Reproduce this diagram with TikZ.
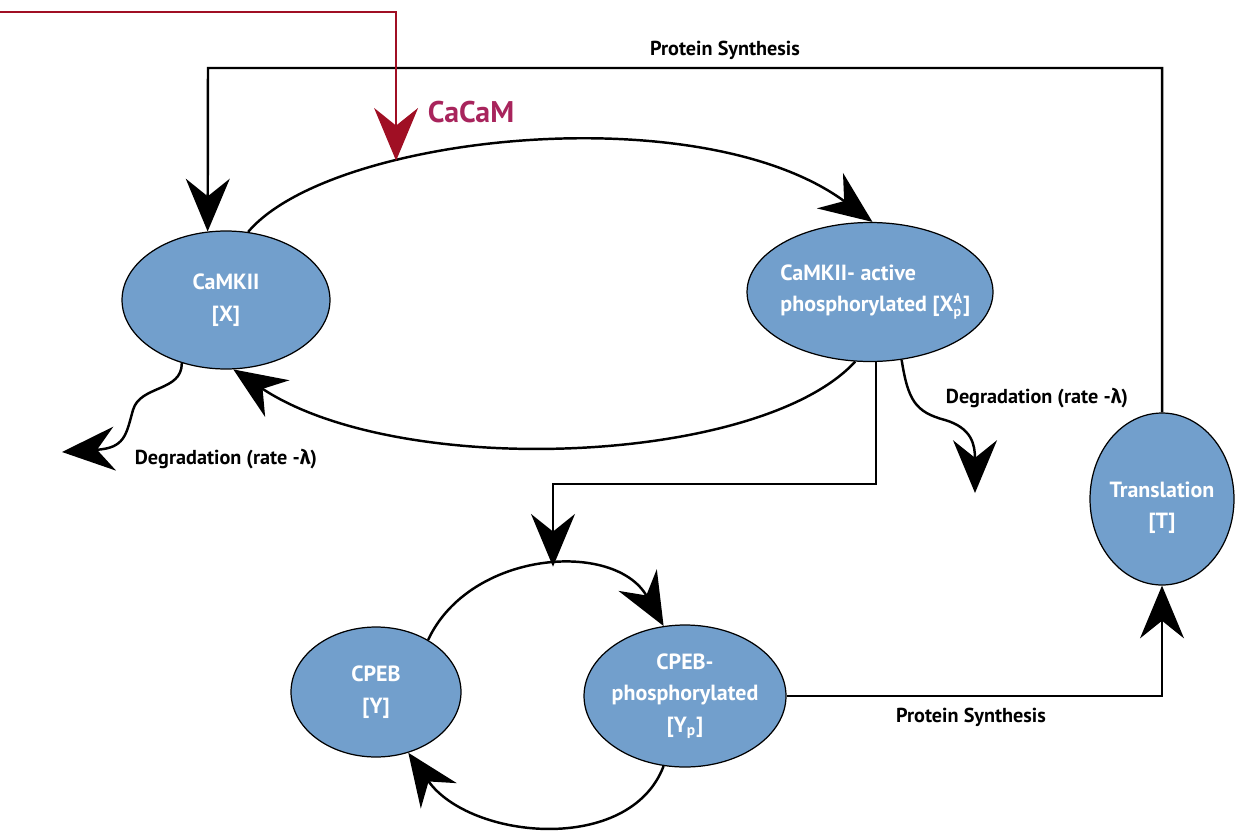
\documentclass[tikz,border=0pt]{standalone}
\usepackage{fontspec}
\setmainfont{PT Sans}
\newfontfamily\greekfont{Fira Sans}
\usetikzlibrary{positioning,arrows.meta,shapes.geometric}
\definecolor{cellblue}{HTML}{729FCC}
\definecolor{signalred}{HTML}{A00F24}
\definecolor{cacamtext}{HTML}{A8245C}
\newcommand{\lam}{{\greekfont λ}}
\newcommand{\idx}[1]{\mbox{\fontsize{8}{8}\selectfont #1}}

\begin{document}
\begin{tikzpicture}[x=0.02cm,y=-0.02cm,
      blob/.style={ellipse,draw=black,fill=cellblue,line width=0.7pt,inner sep=0pt},
      txt/.style={text=white,align=center,font=\bfseries\fontsize{12.5}{18}\selectfont},
      lbl/.style={font=\bfseries\fontsize{11.5}{13}\selectfont},
      arr/.style={-{Stealth[length=30pt,width=25pt,inset=10pt]},line width=1.4pt}]
  \useasboundingbox (0,0) rectangle (1236,835);
  \node[blob,minimum width=4.16cm,minimum height=2.76cm,
        label={[txt]center:{CaMKII\\{}[X]}}](camk) at (226,300){};
  \node[blob,minimum width=4.92cm,minimum height=2.78cm,
        label={[txt,align=left,xshift=3pt]center:{CaMKII- active\\phosphorylated [X$^{\idx{A}}_{\idx{p}}$]}}](act) at (870,292){};
  \node[blob,minimum width=2.88cm,minimum height=3.44cm,
        label={[txt,yshift=-5pt]center:{Translation\\{}[T]}}](trans) at (1162,499){};
  \node[blob,minimum width=3.4cm,minimum height=2.6cm,
        label={[txt]center:{CPEB\\{}[Y]}}](cpeb) at (376,692){};
  \node[blob,minimum width=4.04cm,minimum height=2.84cm,
        label={[txt]center:{CPEB-\\phosphorylated\\{}[Y\textsubscript{p}]}}](cpebp) at (685,696){};
  \coordinate (redin) at (0,12);
  \coordinate (tl) at (208,68);
  \coordinate (junc) at (553,484);
  \coordinate (degl) at (62,452);
  \coordinate (degr) at (975,493);
  \draw[arr] (camk.72) .. controls (330,135) and (700,95) .. (act.88) coordinate[pos=0.315] (cacamtip);
  \draw[arr] (act.258) .. controls (760,465) and (400,480) .. (camk.276);
  \draw[arr] (cpeb.45) .. controls (470,550) and (615,540) .. (cpebp.107) coordinate[pos=0.53] (ytip);
  \draw[arr] (cpebp.253) .. controls (630,855) and (470,840) .. (cpeb.298);
  \draw[arr] (act.275) |- (junc) -- (junc |- ytip);
  \draw[arr] (trans.north) |- (tl) -- (camk.105);
  \draw[arr] (cpebp.east) -| (trans.south);
  \draw[arr] (camk.235) .. controls (182,392) and (140,385) .. (133,410) .. controls (126,435) and (125,448) .. (degl);
  \draw[arr] (act.295) .. controls (908,400) and (915,412) .. (945,420) .. controls (972,428) and (975,445) .. (degr);
  \draw[arr,signalred,line width=1.2pt] (redin) -| (cacamtip);
  \node[lbl] (ps1) at (725,50) {Protein Synthesis};
  \node[lbl] (ps2) at (971,717) {Protein Synthesis};
  \node[lbl] (dgl) at (226,459) {Degradation (rate -\lam)};
  \node[lbl] (dgr) at (1037,398) {Degradation (rate -\lam)};
  \node[font=\bfseries\fontsize{17}{20}\selectfont,text=cacamtext] (cacam) at (471,112) {CaCaM};
\end{tikzpicture}
\end{document}
